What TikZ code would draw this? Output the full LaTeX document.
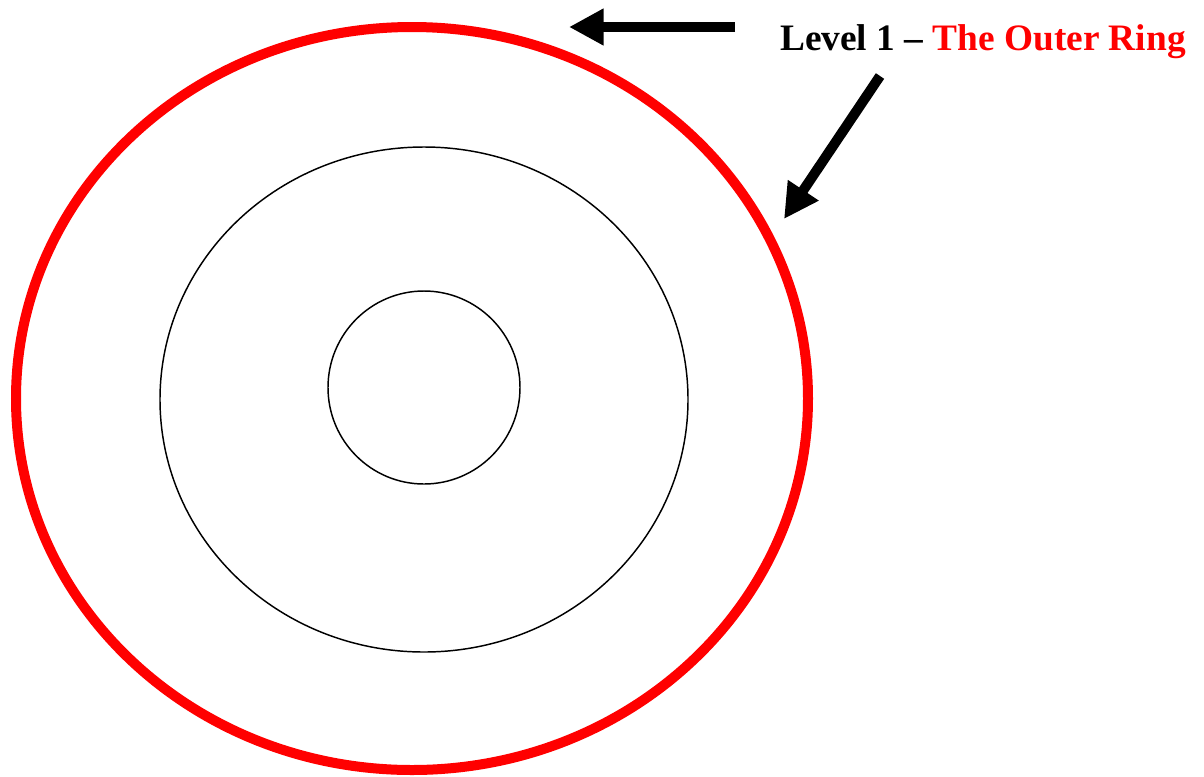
\documentclass[tikz,border=0pt]{standalone}
\usepackage{fontspec}
\setmainfont{Liberation Serif}
\usetikzlibrary{arrows.meta}
\tikzset{
  pointer/.style={line width=7.5pt, -{Triangle[length=26pt,width=26pt]}},
  ring/.style={line width=1.1pt}
}
\begin{document}
\begin{tikzpicture}[x=0.75pt,y=-0.75pt]
  \useasboundingbox (0,0) rectangle (1204,776);
  \draw[red, line width=7.5pt] (412,398.5) ellipse [x radius=396, y radius=371.5];
  \foreach \cx/\cy/\rx/\ry in {424/399.5/264/252.5, 424/387.5/96/96.5}
    \draw[ring] (\cx,\cy) ellipse [x radius=\rx, y radius=\ry];
  \node[anchor=base west, inner sep=0, font=\fontsize{28}{32}\selectfont\bfseries] (lbl) at (780,50)
    {Level 1 -- \textcolor{red}{The Outer Ring}};
  \coordinate (topfrom) at (735,27);
  \coordinate (topto) at (569,27);
  \coordinate (sidefrom) at (880,76);
  \coordinate (sideto) at (784,219);
  \draw[pointer] (topfrom) -- (topto);
  \draw[pointer] (sidefrom) -- (sideto);
\end{tikzpicture}
\end{document}
